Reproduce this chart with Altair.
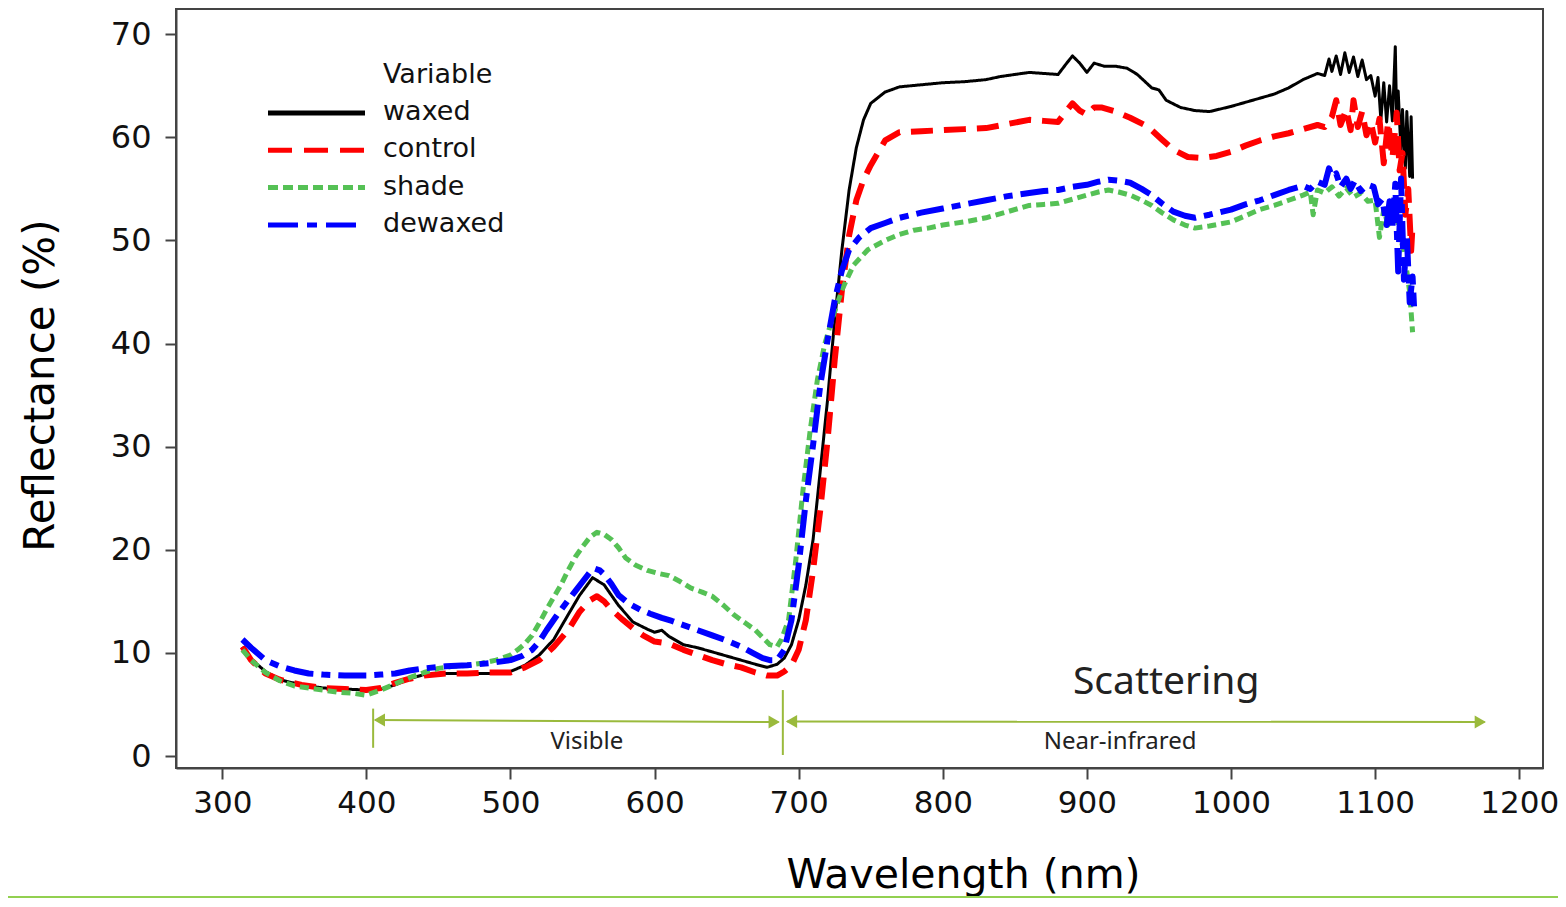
import altair as alt
import pandas as pd

# ---------------- data ----------------
series_names = ["waxed", "control", "shade", "dewaxed"]
series_colors = ["#000000", "#ff0000", "#55c155", "#0000ff"]

waxed_wl = [314, 320, 330, 340, 355, 370, 385, 400, 410, 420, 430, 440, 455, 470, 485, 500, 510, 520, 530, 540,
            548, 557, 565, 575, 585, 595, 600, 605, 610, 620, 630, 640, 650, 660, 670, 678, 685, 690, 695, 700,
            705, 710, 715, 720, 725, 730, 735, 740, 745, 750, 760, 770, 785, 800, 815, 830, 840, 850, 860, 870,
            880, 886, 890, 895, 900, 905, 912, 920, 928, 935, 945, 950, 955, 965, 975, 985, 1000, 1010, 1020, 1030,
            1040, 1050, 1055, 1060, 1065, 1068, 1070, 1073, 1076, 1079, 1082, 1085, 1088, 1091, 1094, 1097, 1100,
            1102, 1104, 1106, 1108, 1110, 1112, 1114, 1115, 1116, 1118, 1119, 1121, 1122, 1124, 1125, 1126]
waxed_val = [10.6, 9.4, 8.2, 7.4, 6.9, 6.6, 6.5, 6.4, 6.5, 6.9, 7.5, 7.9, 8.0, 8.0, 8.0, 8.2, 8.8, 9.8, 11.3, 13.7,
             15.6, 17.3, 16.6, 14.6, 13.0, 12.3, 12.0, 12.2, 11.6, 10.8, 10.5, 10.1, 9.7, 9.3, 8.9, 8.6, 8.9, 9.5, 10.8, 13.2,
             16.6, 21.0, 27.7, 34.5, 42.3, 49.1, 54.9, 59.0, 61.7, 63.3, 64.4, 64.9, 65.1, 65.3, 65.4, 65.6, 65.9, 66.1, 66.3, 66.2,
             66.1, 67.2, 67.9, 67.2, 66.3, 67.2, 66.9, 66.9, 66.7, 66.1, 64.8, 64.6, 63.6, 62.9, 62.6, 62.5, 63.0, 63.4, 63.8, 64.2,
             64.8, 65.6, 65.9, 66.2, 66.0, 67.6, 66.4, 67.9, 66.1, 68.2, 66.3, 67.8, 65.9, 67.5, 65.6, 66.0, 64.0,
             65.8, 61.7, 65.3, 61.5, 65.0, 61.6, 68.8, 61.4, 64.5, 58.5, 62.7, 57.0, 62.5, 56.2, 62.0, 56.0]

control_wl = [314, 320, 330, 340, 355, 370, 385, 400, 410, 420, 430, 440, 455, 470, 485, 500, 510, 520, 530, 540,
              548, 555, 560, 565, 570, 578, 585, 592, 600, 610, 620, 630, 640, 650, 660, 670, 678, 685, 690, 695,
              700, 705, 710, 715, 720, 725, 730, 735, 740, 745, 750, 760, 770, 785, 800, 815, 830, 845, 860, 870,
              880, 886, 890, 895, 900, 905, 910, 920, 930, 940, 945, 952, 960, 970, 980, 990, 1000, 1010, 1020, 1030,
              1040, 1050, 1060, 1065, 1070, 1073, 1076, 1080, 1083, 1085, 1088, 1091, 1094, 1097, 1100, 1103, 1106,
              1109, 1112, 1115, 1117, 1119, 1121, 1123, 1125, 1126]
control_val = [10.6, 9.3, 8.0, 7.4, 6.9, 6.6, 6.5, 6.4, 6.6, 7.1, 7.5, 7.8, 8.0, 8.0, 8.1, 8.1, 8.6, 9.3, 10.6, 12.2,
               14.0, 15.1, 15.5, 15.0, 14.2, 13.2, 12.4, 11.7, 11.1, 10.9, 10.3, 9.8, 9.3, 8.9, 8.6, 8.1, 7.8, 7.8, 8.2, 8.8,
               10.3, 13.2, 18.0, 23.9, 30.6, 38.4, 45.2, 50.5, 53.9, 55.9, 57.3, 59.7, 60.5, 60.6, 60.7, 60.8, 60.9, 61.3, 61.7, 61.6,
               61.5, 62.6, 63.3, 62.6, 62.2, 62.9, 62.9, 62.5, 61.9, 61.2, 60.7, 59.8, 58.8, 58.1, 58.0, 58.2, 58.6, 59.2, 59.7, 60.1,
               60.4, 60.8, 61.2, 61.0, 62.0, 63.6, 61.2, 62.7, 60.7, 63.6, 61.0, 62.5, 60.2, 61.5, 59.5, 61.8, 57.5,
               61.5, 58.0, 62.4, 56.8, 58.5, 52.5, 55.0, 49.0, 51.5]

shade_wl = [314, 320, 330, 340, 350, 360, 370, 380, 390, 400, 410, 420, 430, 440, 450, 460, 470, 480, 490, 500,
            505, 510, 515, 520, 525, 530, 535, 540, 545, 550, 555, 560, 565, 570, 575, 580, 587, 595, 603, 610,
            618, 625, 633, 640, 648, 655, 663, 670, 675, 680, 685, 688, 693, 698, 703, 708, 713, 718, 723, 730,
            738, 748, 760, 770, 780, 790, 800, 815, 830, 845, 860, 870, 880, 890, 900, 908, 915, 922, 930, 938,
            945, 952, 960, 968, 975, 985, 1000, 1010, 1020, 1030, 1040, 1050, 1055, 1057, 1060, 1065, 1070, 1075,
            1080, 1085, 1090, 1095, 1100, 1103, 1106, 1109, 1112, 1115, 1118, 1120, 1122, 1124, 1126]
shade_val = [10.3, 9.3, 8.1, 7.3, 6.8, 6.6, 6.4, 6.2, 6.1, 5.9, 6.4, 7.0, 7.6, 8.1, 8.5, 8.7, 8.8, 9.0, 9.3, 9.8,
             10.3, 10.9, 11.7, 12.9, 14.2, 15.4, 16.6, 18.0, 19.3, 20.3, 21.2, 21.7, 21.5, 21.0, 20.2, 19.2, 18.5, 18.0, 17.7, 17.5,
             16.9, 16.3, 15.9, 15.5, 14.6, 13.7, 12.9, 12.2, 11.5, 10.8, 10.6, 11.3, 13.2, 19.0, 25.8, 31.6, 36.5, 39.9, 42.3, 45.2,
             47.6, 49.1, 50.0, 50.6, 51.0, 51.2, 51.5, 51.8, 52.2, 52.8, 53.4, 53.5, 53.6, 54.0, 54.4, 54.7, 54.9, 54.7, 54.4, 53.9,
             53.4, 52.7, 52.0, 51.5, 51.2, 51.4, 51.8, 52.4, 53.0, 53.4, 53.9, 54.4, 54.7, 52.5, 54.9, 54.6, 55.2, 54.3,
             55.1, 54.2, 54.6, 53.8, 53.9, 50.3, 53.0, 51.5, 53.5, 52.5, 50.0, 49.0, 47.0, 45.0, 41.1]

dewaxed_wl = [314, 320, 330, 340, 350, 360, 370, 385, 400, 410, 420, 430, 440, 455, 470, 485, 500, 508, 515, 520,
              525, 532, 540, 545, 550, 555, 558, 562, 565, 570, 575, 582, 590, 597, 605, 612, 620, 630, 640, 650,
              660, 668, 675, 680, 685, 690, 695, 700, 705, 710, 715, 720, 725, 730, 735, 742, 750, 760, 770, 785,
              800, 815, 830, 845, 860, 870, 880, 890, 900, 908, 915, 922, 930, 938, 945, 952, 960, 968, 975, 985,
              1000, 1010, 1020, 1030, 1040, 1050, 1055, 1060, 1065, 1068, 1070, 1073, 1076, 1080, 1083, 1086, 1090,
              1095, 1099, 1102, 1105, 1108, 1110, 1112, 1114, 1116, 1118, 1120, 1122, 1124, 1126, 1127]
dewaxed_val = [11.3, 10.5, 9.3, 8.7, 8.3, 8.0, 7.9, 7.8, 7.8, 7.9, 8.0, 8.3, 8.5, 8.7, 8.8, 9.0, 9.3, 9.7, 10.3, 11.1,
               12.2, 13.6, 15.1, 16.0, 16.9, 17.8, 18.2, 18.0, 17.6, 16.7, 15.6, 14.8, 14.2, 13.8, 13.4, 13.1, 12.7, 12.2, 11.7, 11.2,
               10.6, 10.0, 9.5, 9.3, 9.3, 10.3, 13.2, 18.5, 24.8, 30.2, 36.0, 40.3, 44.2, 47.1, 49.1, 50.3, 51.2, 51.7, 52.2, 52.7,
               53.1, 53.5, 53.9, 54.3, 54.6, 54.8, 54.9, 55.2, 55.4, 55.7, 55.9, 55.8, 55.6, 55.0, 54.4, 53.6, 52.8, 52.4, 52.2, 52.5,
               53.0, 53.5, 53.9, 54.4, 54.9, 55.3, 55.0, 55.7, 55.4, 57.0, 56.2, 56.5, 55.2, 56.0, 55.0, 55.8, 54.8,
               55.4, 55.2, 53.5, 54.0, 51.5, 53.8, 51.3, 55.5, 47.0, 56.0, 46.2, 50.5, 44.0, 46.5, 43.6]

x_ticks = [300, 400, 500, 600, 700, 800, 900, 1000, 1100, 1200]
y_ticks = [0, 10, 20, 30, 40, 50, 60, 70]

# region annotations (data units)
region_edges_nm = [404.7, 689.0]
region_edges_lo = [0.8, 0.1]
region_edges_hi = [4.6, 6.4]
arrow_start = [406.0, 692.0]
arrow_end = [686.0, 1176.0]
arrow_y_start = [3.5, 3.35]
arrow_y_end = [3.3, 3.3]
region_labels = ["Visible", "Near-infrared"]
region_label_nm = [553.0, 923.0]
region_label_y = [1.35, 1.35]
scatter_label = "Scattering"
scatter_nm = 955.0
scatter_y = 7.2

# ---------------- styling ----------------
line_dash = {"waxed": [1, 0], "control": [22, 11], "shade": [9, 5], "dewaxed": [28, 8, 9, 8]}
line_width = {"waxed": 3, "control": 6, "shade": 5, "dewaxed": 6}
legend_dash = {"waxed": [1, 0], "control": [24, 12], "shade": [10, 5], "dewaxed": [30, 9, 10, 9]}

ann_color = "#9aba3c"
W, H = 1367, 759

xscale = alt.Scale(domain=[267.9, 1216.5], nice=False, zero=False)
yscale = alt.Scale(domain=[-1.16, 72.45], nice=False, zero=False)

xaxis = alt.Axis(values=x_ticks, format="d", title="Wavelength (nm)", grid=False, tickSize=11,
                 labelPadding=9, labelFontSize=31, labelFont="DejaVu Sans", labelColor="#111",
                 titleFontSize=41, titleFont="DejaVu Sans", titleFontWeight="normal", titleColor="#000",
                 titleX=787, titleY=119, titleBaseline="alphabetic", titleAnchor="middle",
                 domainColor="#444", domainWidth=2, tickColor="#444", tickWidth=2)
yaxis = alt.Axis(values=y_ticks, format="d", title="Reflectance (%)", grid=False, tickSize=11,
                 labelPadding=14, labelFontSize=32, labelFont="DejaVu Sans", labelColor="#111",
                 titleFontSize=42, titleFont="DejaVu Sans", titleFontWeight="normal", titleColor="#000",
                 titleX=-136, titleY=376, titleAngle=270, titleAlign="center", titleBaseline="middle",
                 domainColor="#444", domainWidth=2, tickColor="#444", tickWidth=2)


def X(field):
    return alt.X(field, scale=xscale, axis=xaxis, title="Wavelength (nm)")


def Y(field):
    return alt.Y(field, scale=yscale, axis=yaxis, title="Reflectance (%)")


all_wl = [waxed_wl, control_wl, shade_wl, dewaxed_wl]
all_val = [waxed_val, control_val, shade_val, dewaxed_val]

layers = []
for name, color, wl, val in zip(series_names, series_colors, all_wl, all_val):
    df = pd.DataFrame({"wl": wl, "val": val})
    layers.append(
        alt.Chart(df).mark_line(color=color, strokeWidth=line_width[name],
                                strokeDash=line_dash[name], strokeCap="butt",
                                strokeJoin="round").encode(x=X("wl:Q"), y=Y("val:Q"), order="wl:Q")
    )

# region annotations
edges_df = pd.DataFrame({"x": region_edges_nm, "lo": region_edges_lo, "hi": region_edges_hi})
layers.append(alt.Chart(edges_df).mark_rule(color=ann_color, strokeWidth=2).encode(
    x=X("x:Q"), y=Y("lo:Q"), y2="hi:Q"))

arrows_df = pd.DataFrame({"x": arrow_start, "x2": arrow_end, "y": arrow_y_start, "y2": arrow_y_end})
layers.append(alt.Chart(arrows_df).mark_rule(color=ann_color, strokeWidth=2).encode(
    x=X("x:Q"), x2="x2:Q", y=Y("y:Q"), y2="y2:Q"))

left_heads = pd.DataFrame({"x": [a + 3 for a in arrow_start], "y": arrow_y_start})
right_heads = pd.DataFrame({"x": [b - 3 for b in arrow_end], "y": arrow_y_end})
layers.append(alt.Chart(left_heads).mark_point(shape="triangle-left", filled=True, size=170,
                                                color=ann_color, opacity=1).encode(
    x=X("x:Q"), y=Y("y:Q")))
layers.append(alt.Chart(right_heads).mark_point(shape="triangle-right", filled=True, size=170,
                                                 color=ann_color, opacity=1).encode(
    x=X("x:Q"), y=Y("y:Q")))

labels_df = pd.DataFrame({"x": region_label_nm, "y": region_label_y, "t": region_labels})
layers.append(alt.Chart(labels_df).mark_text(font="Noto Sans", fontSize=24, color="#222",
                                             baseline="middle", align="center").encode(
    x=X("x:Q"), y=Y("y:Q"), text="t:N"))

scat_df = pd.DataFrame({"x": [scatter_nm], "y": [scatter_y], "t": [scatter_label]})
layers.append(alt.Chart(scat_df).mark_text(font="Noto Sans", fontSize=39, color="#222",
                                           baseline="middle", align="center").encode(
    x=X("x:Q"), y=Y("y:Q"), text="t:N"))

# manual legend (top-left, inside the plot)
leg_title = pd.DataFrame({"t": ["Variable"]})
layers.append(alt.Chart(leg_title).mark_text(font="DejaVu Sans", fontSize=27, color="#111",
                                             align="left", baseline="middle").encode(
    x=alt.value(207), y=alt.value(66), text="t:N"))
for i, (name, color) in enumerate(zip(series_names, series_colors)):
    ypix = 104 + i * 37.3
    row = pd.DataFrame({"t": [name]})
    layers.append(alt.Chart(row).mark_rule(color=color, strokeWidth=5, strokeDash=legend_dash[name],
                                           strokeCap="butt").encode(
        x=alt.value(92), x2=alt.value(189), y=alt.value(ypix)))
    layers.append(alt.Chart(row).mark_text(font="DejaVu Sans", fontSize=27, color="#111",
                                           align="left", baseline="middle").encode(
        x=alt.value(207), y=alt.value(ypix - 1), text="t:N"))

# slide accent line at the very bottom
layers.append(alt.Chart(pd.DataFrame({"t": [0]})).mark_rule(color="#92d050", strokeWidth=2).encode(
    x=alt.value(-176), x2=alt.value(1400), y=alt.value(888)))

chart = alt.layer(*layers).properties(
    width=W, height=H,
    autosize=alt.AutoSizeParams(type="none"),
    padding={"left": 168, "top": 1, "right": 15, "bottom": 131},
    background="white",
).configure_view(stroke="#444", strokeWidth=2)

chart.save("out.html", embed_options={"renderer": "svg", "actions": False})
